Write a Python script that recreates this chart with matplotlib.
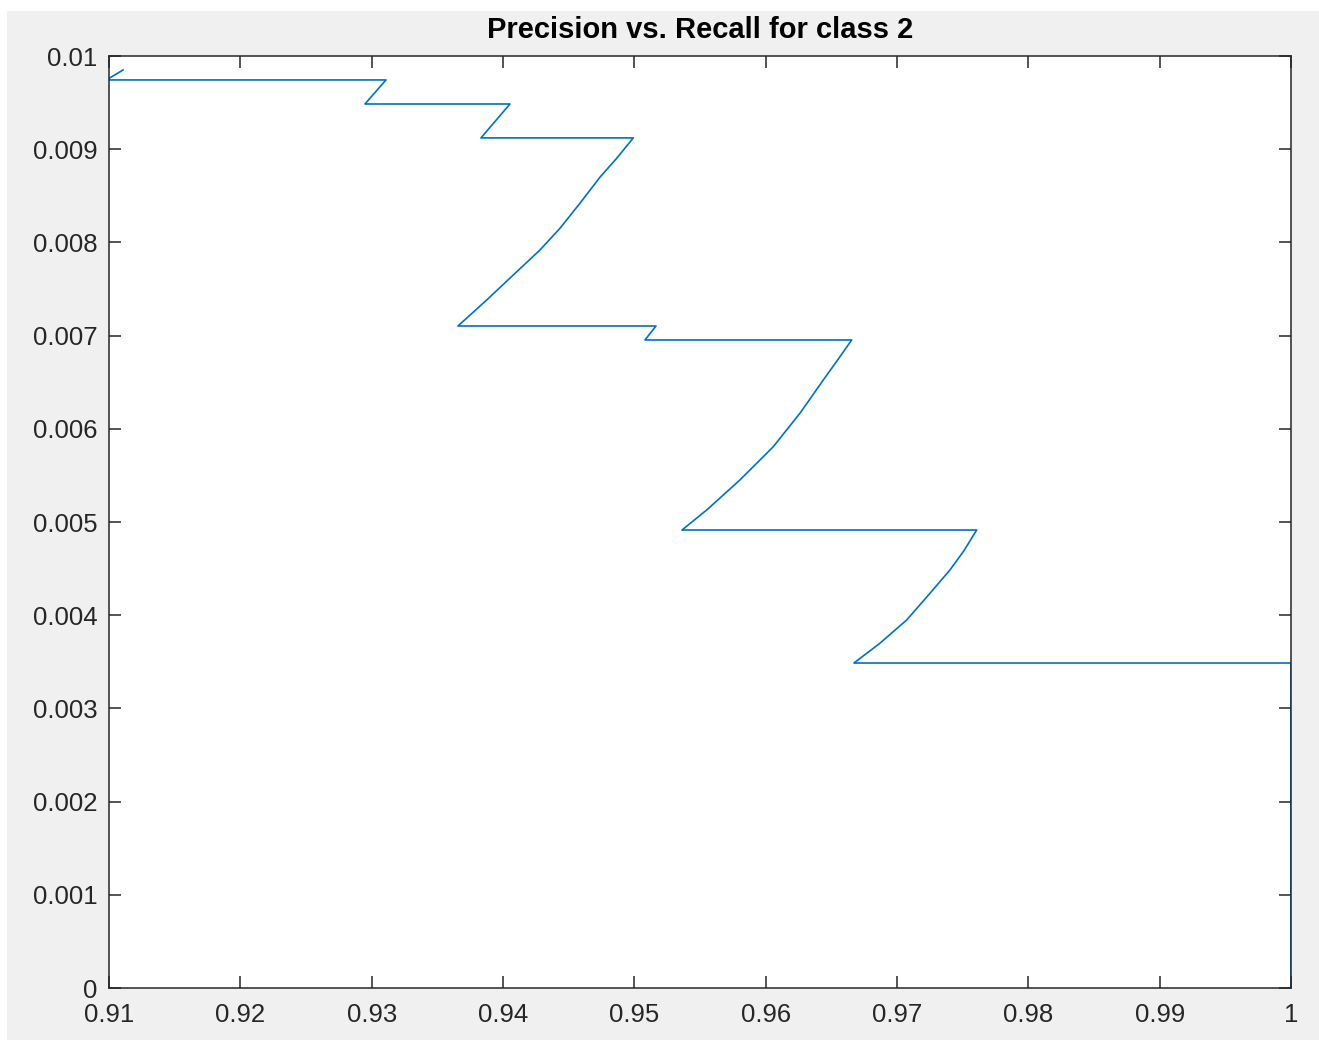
import numpy as np
import matplotlib
matplotlib.use("Agg")
import matplotlib.pyplot as plt
from matplotlib.patches import Rectangle
from matplotlib.ticker import FuncFormatter

# recall / precision pairs, walked from the lowest threshold upwards
recall = [1.0, 1.0, 0.96672,
          0.96870, 0.97074, 0.97251, 0.97403, 0.97505, 0.97607,
          0.95363,
          0.95551, 0.95804, 0.96058, 0.96261, 0.96439, 0.96566, 0.96655,
          0.95081, 0.95165,
          0.93657,
          0.93876, 0.94078, 0.94282, 0.94434, 0.94586, 0.94738, 0.94866, 0.94992,
          0.93832, 0.94053,
          0.92949, 0.93109,
          0.90980, 0.91107]
precision = [0.0, 0.003487, 0.003487,
             0.003699, 0.003949, 0.004235, 0.004485, 0.004682, 0.004914,
             0.004914,
             0.005129, 0.005451, 0.005808, 0.006167, 0.006524, 0.006774, 0.006953,
             0.006953, 0.007103,
             0.007103,
             0.007382, 0.007650, 0.007919, 0.008152, 0.008420, 0.008699, 0.008903, 0.009121,
             0.009121, 0.009485,
             0.009485, 0.009743,
             0.009743, 0.009850]

xticks = [0.91, 0.92, 0.93, 0.94, 0.95, 0.96, 0.97, 0.98, 0.99, 1.0]
yticks = [0.0, 0.001, 0.002, 0.003, 0.004, 0.005, 0.006, 0.007, 0.008, 0.009, 0.01]

W, H = 1319, 1044
fig = plt.figure(figsize=(W / 100, H / 100), dpi=100, facecolor="white")
# grey window panel behind the axes
fig.patches.append(Rectangle((7 / W, 4 / H), (W - 7) / W, (1040 - 11) / H,
                             transform=fig.transFigure, facecolor="#f0f0f0",
                             edgecolor="none", zorder=-10))

ax = fig.add_axes([109 / W, 1 - 988 / H, (1291 - 109) / W, (988 - 56) / H])
ax.set_facecolor("white")

ax.plot(recall, precision, color="#0072bd", linewidth=1.2)

ax.set_xlim(0.91, 1.0)
ax.set_ylim(0.0, 0.01)
ax.set_xticks(xticks)
ax.set_yticks(yticks)
fmt = FuncFormatter(lambda v, p: "%g" % round(v, 4))
ax.xaxis.set_major_formatter(fmt)
ax.yaxis.set_major_formatter(fmt)

dark = "#262626"
for s in ax.spines.values():
    s.set_color(dark)
    s.set_linewidth(1.1)
ax.tick_params(direction="in", top=True, right=True, length=8.5, width=1.1,
               color=dark, labelcolor=dark, labelsize=18.5)
ax.tick_params(axis="y", pad=8.5)
ax.tick_params(axis="x", pad=10.5)
for lab in ax.get_xticklabels() + ax.get_yticklabels():
    lab.set_fontfamily("Liberation Sans")

ax.set_title("Precision vs. Recall for class 2", fontsize=21,
             fontweight="bold", fontfamily="Liberation Sans", color="black", pad=13)

fig.savefig("out.png", dpi=100, facecolor=fig.get_facecolor())
